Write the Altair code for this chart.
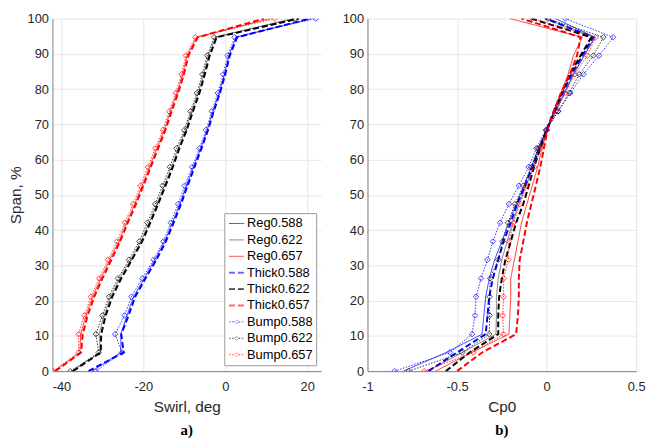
import altair as alt
import pandas as pd

# ---------------- data ----------------
span = [0, 5.3, 10.5, 15.8, 21.1, 26.3, 31.6, 36.8, 42.1, 47.4,
        52.6, 57.9, 63.2, 68.4, 73.7, 78.9, 84.2, 89.5, 94.7, 100]

series_names = ["Reg0.588", "Reg0.622", "Reg0.657",
                "Thick0.588", "Thick0.622", "Thick0.657",
                "Bump0.588", "Bump0.622", "Bump0.657"]

# Panel a) Swirl, deg
swirl_reg_588 = [-32.5, -25.5, -25.5, -24.0, -22.4, -19.8, -17.2, -14.8, -12.9, -11.1,
                 -9.5, -7.8, -6.0, -4.4, -3.0, -1.5, -0.2, 0.9, 2.6, 21.0]
swirl_reg_622 = [-37.5, -30.5, -30.8, -29.6, -28.0, -25.8, -23.1, -20.6, -18.6, -16.7,
                 -14.9, -13.1, -11.5, -9.7, -8.2, -6.6, -5.3, -4.1, -2.4, 16.5]
swirl_reg_657 = [-41.8, -35.5, -35.3, -34.0, -32.4, -30.4, -28.2, -26.0, -24.1, -22.1,
                 -20.3, -18.5, -16.7, -14.9, -13.4, -11.8, -10.4, -9.3, -7.0, 11.0]
swirl_thick_588 = [-33.4, -24.8, -25.4, -23.6, -22.0, -19.5, -16.8, -14.5, -12.6, -10.8,
                   -9.2, -7.5, -5.8, -4.2, -2.8, -1.3, 0.0, 1.1, 2.9, 20.6]
swirl_thick_622 = [-37.2, -30.4, -30.3, -29.2, -27.6, -25.4, -22.8, -20.3, -18.3, -16.4,
                   -14.6, -12.8, -11.2, -9.4, -7.9, -6.3, -5.0, -3.8, -2.1, 18.0]
swirl_thick_657 = [-41.5, -35.2, -34.8, -33.6, -32.0, -30.0, -27.8, -25.7, -23.8, -21.8,
                   -20.0, -18.2, -16.4, -14.6, -13.1, -11.5, -10.1, -9.0, -6.7, 9.5]
swirl_bump_588 = [-31.6, -25.2, -26.9, -24.6, -22.9, -20.3, -17.5, -15.1, -13.3, -11.5,
                  -9.9, -8.1, -6.3, -4.7, -3.3, -1.8, -0.5, 0.6, 2.3, 22.1]
swirl_bump_622 = [-37.8, -30.9, -31.6, -30.0, -28.4, -26.2, -23.5, -21.0, -19.0, -17.1,
                  -15.3, -13.5, -11.9, -10.0, -8.5, -6.9, -5.6, -4.4, -2.7, 17.1]
swirl_bump_657 = [-42.0, -35.8, -35.8, -34.4, -32.8, -30.8, -28.6, -26.4, -24.5, -22.5,
                  -20.7, -18.9, -17.1, -15.2, -13.7, -12.1, -10.7, -9.6, -7.3, 12.1]

# Panel b) Cp0
cp_reg_588 = [-0.80, -0.56, -0.36, -0.35, -0.34, -0.32, -0.29, -0.25, -0.21, -0.17,
              -0.125, -0.085, -0.045, 0.0, 0.05, 0.10, 0.15, 0.21, 0.27, 0.05]
cp_reg_622 = [-0.665, -0.47, -0.283, -0.28, -0.28, -0.27, -0.25, -0.22, -0.19, -0.155,
              -0.115, -0.075, -0.04, 0.0, 0.05, 0.10, 0.15, 0.21, 0.27, -0.01]
cp_reg_657 = [-0.62, -0.42, -0.21, -0.205, -0.20, -0.20, -0.18, -0.16, -0.14, -0.11,
              -0.08, -0.05, -0.025, 0.005, 0.04, 0.08, 0.12, 0.15, 0.20, -0.205]
cp_thick_588 = [-0.66, -0.50, -0.34, -0.33, -0.32, -0.30, -0.27, -0.24, -0.20, -0.165,
                -0.12, -0.08, -0.04, 0.0, 0.045, 0.09, 0.14, 0.20, 0.26, -0.005]
cp_thick_622 = [-0.563, -0.43, -0.27, -0.27, -0.265, -0.25, -0.23, -0.20, -0.17, -0.13,
                -0.10, -0.07, -0.035, 0.0, 0.04, 0.085, 0.13, 0.19, 0.25, -0.085]
cp_thick_657 = [-0.50, -0.36, -0.17, -0.16, -0.155, -0.155, -0.15, -0.13, -0.11, -0.085,
                -0.06, -0.035, -0.015, 0.005, 0.04, 0.08, 0.13, 0.17, 0.19, -0.14]
cp_bump_588 = [-0.849, -0.54, -0.416, -0.40, -0.394, -0.366, -0.33, -0.30, -0.26, -0.21,
               -0.155, -0.10, -0.057, -0.005, 0.065, 0.133, 0.206, 0.293, 0.372, 0.104]
cp_bump_622 = [-0.77, -0.471, -0.32, -0.318, -0.318, -0.315, -0.27, -0.246, -0.216, -0.176,
               -0.13, -0.085, -0.048, 0.0, 0.063, 0.127, 0.182, 0.261, 0.317, 0.007]
cp_bump_657 = [-0.683, -0.41, -0.241, -0.245, -0.24, -0.24, -0.214, -0.21, -0.185, -0.149,
               -0.112, -0.07, -0.039, 0.003, 0.053, 0.104, 0.158, 0.228, 0.274, -0.079]

swirl_series = [swirl_reg_588, swirl_reg_622, swirl_reg_657,
                swirl_thick_588, swirl_thick_622, swirl_thick_657,
                swirl_bump_588, swirl_bump_622, swirl_bump_657]
cp_series = [cp_reg_588, cp_reg_622, cp_reg_657,
             cp_thick_588, cp_thick_622, cp_thick_657,
             cp_bump_588, cp_bump_622, cp_bump_657]

# ---------------- styles ----------------
colors = ["#0000ff", "#5a5a5a", "#ff0000",
          "#0000ff", "#000000", "#ff0000",
          "#0000ff", "#000000", "#ff0000"]
dashes = [[1, 0], [1, 0], [1, 0],
          [6, 3], [6, 3], [6, 3],
          [1.5, 1.5], [1.5, 1.5], [1.5, 1.5]]
widths = [0.8, 0.8, 0.8, 2.0, 2.0, 2.0, 0.8, 0.8, 0.8]
line_path = "M-1.1,0L1.1,0"
thick_path = "M-1.1,-0.06L1.1,-0.06M-1.1,0.06L1.1,0.06"
bump_path = "M-1.1,0L-0.3,0M-0.3,0L0,-0.3L0.3,0L0,0.3ZM0.3,0L1.1,0"
shapes = [line_path] * 3 + [thick_path] * 3 + [bump_path] * 3

FONT = "Liberation Sans"


def make_df(values_list):
    rows = []
    for name, vals in zip(series_names, values_list):
        for i, (s, v) in enumerate(zip(span, vals)):
            rows.append({"series": name, "idx": i, "span": s, "value": v})
    return pd.DataFrame(rows)


def panel(values_list, xdom, xticks, xtitle, ytitle, label, with_legend):
    df = make_df(values_list)
    xs = alt.Scale(domain=xdom, nice=False, zero=False)
    ys = alt.Scale(domain=[0, 100], nice=False, zero=False)
    xax = alt.Axis(values=xticks, title=xtitle, labelExpr="'' + datum.value",
                   grid=True, labelFlush=False, labelPadding=10, titlePadding=6)
    yax = alt.Axis(values=list(range(0, 101, 10)), title=ytitle, grid=True,
                   labelFlush=False)
    layers = []
    for k, name in enumerate(series_names):
        sub = df[df["series"] == name]
        base = alt.Chart(sub)
        ln = base.mark_line(color=colors[k], strokeDash=dashes[k],
                            strokeWidth=widths[k], clip=True).encode(
            x=alt.X("value:Q", scale=xs, axis=xax),
            y=alt.Y("span:Q", scale=ys, axis=yax),
            order="idx:Q",
        )
        layers.append(ln)
        if name.startswith("Bump"):
            pt = base.mark_point(shape="diamond", filled=False, color=colors[k],
                                 size=32, strokeWidth=1.0, clip=True).encode(
                x=alt.X("value:Q", scale=xs, axis=xax),
                y=alt.Y("span:Q", scale=ys, axis=yax),
            )
            layers.append(pt)
    if with_legend:
        leg_df = pd.DataFrame({"series": series_names,
                               "value": [xdom[0] - 100] * 9,
                               "span": [-100] * 9})
        leg = alt.Chart(leg_df).mark_point(filled=False, clip=True).encode(
            x=alt.X("value:Q", scale=xs, axis=xax),
            y=alt.Y("span:Q", scale=ys, axis=yax),
            color=alt.Color("series:N", sort=series_names,
                            scale=alt.Scale(domain=series_names, range=colors),
                            legend=alt.Legend(
                                title=None, orient="none", legendX=174, legendY=197,
                                labelFont=FONT, labelFontSize=13, labelColor="#000000",
                                strokeColor="#9a9a9a", fillColor="#ffffff",
                                padding=3, rowPadding=1.6, symbolSize=196,
                                symbolStrokeWidth=1.0,
                                symbolOffset=2, labelOffset=3, labelLimit=200)),
            shape=alt.Shape("series:N", sort=series_names,
                            scale=alt.Scale(domain=series_names, range=shapes)),
            strokeDash=alt.StrokeDash("series:N", sort=series_names,
                                      scale=alt.Scale(domain=series_names, range=dashes)),
        )
        layers.append(leg)
    return alt.layer(*layers).properties(
        width=272, height=357,
        title=alt.TitleParams(label, orient="bottom", font="Liberation Serif",
                              fontSize=15, fontWeight="bold", color="#000000",
                              offset=8),
    )


pa = panel(swirl_series, [-42.2, 23.4], [-40, -20, 0, 20], "Swirl, deg", "Span, %",
           "a)", True)
pb = panel(cp_series, [-1.0, 0.5], [-1, -0.5, 0, 0.5], "Cp0", None, "b)", False)

chart = alt.hconcat(pa, pb, spacing=21).properties(
    padding={"left": 0, "top": 2, "right": 0, "bottom": 0}
).configure_view(stroke=None).configure_axis(
    labelFont=FONT, labelFontSize=13, labelColor="#262626",
    titleFont=FONT, titleFontSize=15.5, titleFontWeight="normal", titleColor="#262626",
    gridColor="#e6e6e6", gridWidth=1, domainColor="#808080", domainWidth=1,
    ticks=False, labelPadding=4, titlePadding=4,
).configure_legend(symbolType="stroke")

chart.save("out.html", embed_options={"renderer": "svg", "actions": False})
